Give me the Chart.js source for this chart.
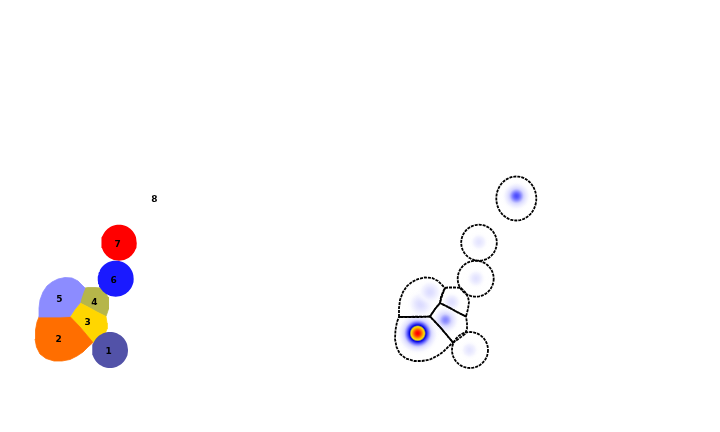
<!DOCTYPE html>
<html><head><meta charset="utf-8">
<script src="https://cdn.jsdelivr.net/npm/chart.js@4.4.1/dist/chart.umd.min.js"></script>
<style>
html,body{margin:0;padding:0;background:#fff;}
#wrap{display:flex;width:720px;height:432px;}
canvas{display:block;}
</style>
</head><body>
<div id="wrap"><canvas id="left" width="360" height="432"></canvas><canvas id="right" width="360" height="432"></canvas></div>
<script>
// ---- data (image coordinates of one panel) ----
const regionLabels = ['1','2','3','4','5','6','7','8'];
const regionColors = ['#5252a8','#ff6e00','#ffd600','#b6b64a','#8c8cff','#1a1aff','#ff0000','#ffffff'];
const labelX = [108.7, 58.7, 87.7, 94.3, 59.3, 113.7, 117.7, 154.3];
const labelY = [352.0, 339.7, 322.7, 303.0, 299.3, 280.3, 244.3, 200.0];

// irregular regions (outline vertices)
const region2X = [39,70,80,93,88,83,77,70,62,54,46,40,36.5,35,35.5,37,39];
const region2Y = [317,316.5,327,342.5,347,352,356,359.5,361,361,358.5,354,347,339,330,322,317];
const region3X = [70,75,80,88,97,106,107,107,105,99,93,80,70];
const region3Y = [316.5,309,303,307,312,316.5,323,329,334,338.5,342.5,327,316.5];
const region4X = [80,81,83,85,88,95,101,105,108,109,108,106,97,88,80];
const region4Y = [303,297,292,288,287.5,287.5,288,292,297,302,309,316.5,312,307,303];
const region5X = [39,39,40,43,47,52,58,65,72,78,83,85,83,81,80,75,70,60,50,39];
const region5Y = [317,308,300,292,286,282,279,277.5,278,281,286,288,293,299,303,309,316.5,317,317,317];

// round regions: id, centre, radii
const roundIds = [1, 6, 7, 8];
const roundCX = [110, 115.7, 119, 156.3];
const roundCY = [350, 278.7, 242.7, 198.5];
const roundRX = [18, 18, 17.8, 20];
const roundRY = [18, 18, 18, 22];

// density peaks (right panel)
const blobX     = [57.7, 156.5, 85.5, 61,   70,   91.7, 109.5, 116,  119];
const blobY     = [333.3,196,   320,  304,  292,  302,  350,   278.5,242];
const blobPeak  = [1.0,  0.36,  0.27, 0.13, 0.12, 0.11, 0.09,  0.1,  0.09];
const blobSigma = [7.0,  5.5,   5.5,  6,    5.5,  4.5,  4.5,   4.5,  4.5];

// ---- build datasets ----
function pts(xs, ys){ return xs.map((x,i)=>({x:x, y:ys[i]})); }
function ellipsePts(cx, cy, rx, ry){
  const out=[]; const n=64;
  for(let i=0;i<=n;i++){ const a=2*Math.PI*i/n; out.push({x:cx+rx*Math.cos(a), y:cy+ry*Math.sin(a)}); }
  return out;
}
const polyShapes = {2:pts(region2X,region2Y),3:pts(region3X,region3Y),4:pts(region4X,region4Y),5:pts(region5X,region5Y)};
roundIds.forEach((id,i)=>{ polyShapes[id]=ellipsePts(roundCX[i],roundCY[i],roundRX[i],roundRY[i]); });

const stops=[[0,[255,255,255]],[0.15,[212,212,255]],[0.33,[95,95,255]],[0.5,[0,0,225]],[0.64,[255,235,0]],[0.82,[255,130,0]],[1,[255,0,0]]];
function cmap(v){
  v=Math.max(0,Math.min(1,v));
  for(let i=1;i<stops.length;i++){
    if(v<=stops[i][0]){
      const [a,ca]=stops[i-1],[b,cb]=stops[i]; const t=(v-a)/(b-a);
      return ca.map((c,k)=>Math.round(c+(cb[k]-c)*t));
    }
  }
  return stops[stops.length-1][1];
}

const baseOpts = {
  responsive:false, animation:false, events:[],
  layout:{padding:0, autoPadding:false},
  scales:{
    x:{type:'linear',min:0,max:360,display:false},
    y:{type:'linear',min:0,max:432,reverse:true,display:false}
  },
  plugins:{legend:{display:false},tooltip:{enabled:false}},
  elements:{point:{radius:0,hoverRadius:0}}
};

// left: filled regions
const leftSets=[];
[5,2,3,4,8].forEach(id=>{
  leftSets.push({type:'line',data:polyShapes[id],showLine:true,fill:'shape',tension:0,
    backgroundColor:regionColors[id-1],borderColor:regionColors[id-1],borderWidth:0.8,
    borderJoinStyle:'round',borderCapStyle:'round',pointRadius:0,order:10});
});
[1,6,7].forEach(id=>{
  leftSets.push({type:'line',data:polyShapes[id],showLine:true,fill:'shape',tension:0,
    backgroundColor:regionColors[id-1],borderColor:'rgba(0,0,0,0)',borderWidth:0,
    pointRadius:0,order:5});
});

const labelPlugin={id:'labels',afterDatasetsDraw(chart){
  const ctx=chart.ctx, sx=chart.scales.x, sy=chart.scales.y;
  ctx.save(); ctx.fillStyle='#000'; ctx.font='bold 9px "DejaVu Sans"';
  ctx.textAlign='center'; ctx.textBaseline='middle';
  regionLabels.forEach((t,i)=>ctx.fillText(t, sx.getPixelForValue(labelX[i]), sy.getPixelForValue(labelY[i])));
  ctx.restore();
}};

new Chart(document.getElementById('left'),{type:'scatter',data:{datasets:leftSets},options:baseOpts,plugins:[labelPlugin]});

// right: density + outlines
const rightSets=[];
rightSets.push({type:'bubble',order:20,clip:false,
  data:blobX.map((x,i)=>({x:x,y:blobY[i],r:blobSigma[i]*3.2,peak:blobPeak[i],s:blobSigma[i]})),
  borderWidth:0,hoverBorderWidth:0,
  backgroundColor:(c)=>{
    if(c.type!=='data'||!c.chart.chartArea) return 'rgba(0,0,0,0)';
    const ch=c.chart, raw=c.raw;
    const px=ch.scales.x.getPixelForValue(raw.x), py=ch.scales.y.getPixelForValue(raw.y);
    const R=raw.r; const g=ch.ctx.createRadialGradient(px,py,0,px,py,R);
    for(let k=0;k<=30;k++){
      const t=k/30, d=t*R, v=raw.peak*Math.exp(-d*d/(2*raw.s*raw.s));
      const col=cmap(v); const a=Math.min(1,v/0.04);
      g.addColorStop(t,`rgba(${col[0]},${col[1]},${col[2]},${a.toFixed(3)})`);
    }
    return g;
  }});
[1,2,3,4,5,6,7,8].forEach(id=>{
  rightSets.push({type:'line',data:polyShapes[id],showLine:true,fill:false,tension:0,
    borderColor:'#000',borderWidth:1.8,borderDash:[3,1],pointRadius:0,order:1});
});
new Chart(document.getElementById('right'),{type:'scatter',data:{datasets:rightSets},options:baseOpts});
</script>
</body></html>
